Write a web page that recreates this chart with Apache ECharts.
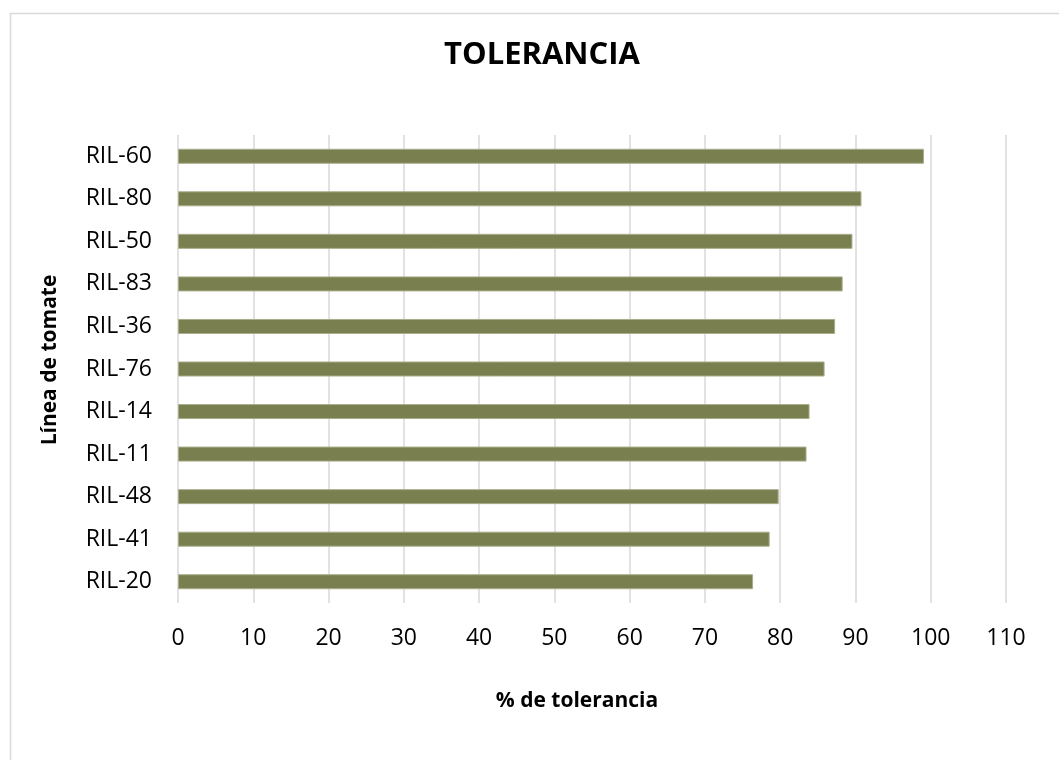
<!DOCTYPE html>
<html><head><meta charset="utf-8">
<script src="https://cdn.jsdelivr.net/npm/echarts@6/dist/echarts.min.js"></script>
<style>html,body{margin:0;padding:0;background:#fff}#c{width:1059px;height:760px}</style>
</head><body><div id="c"></div>
<script>
const categories = ['RIL-60','RIL-80','RIL-50','RIL-83','RIL-36','RIL-76','RIL-14','RIL-11','RIL-48','RIL-41','RIL-20'];
const tolerance = [99.1, 90.8, 89.6, 88.3, 87.3, 85.9, 83.9, 83.5, 79.8, 78.6, 76.4];
const title = 'TOLERANCIA';
const xName = '% de tolerancia';
const yName = 'Línea de tomate';
const FONT = '"Open Sans", sans-serif';

const chart = echarts.init(document.getElementById('c'));
chart.setOption({
  backgroundColor: '#fff',
  animation: false,
  title: { text: title, left: 537, top: 35, textAlign: 'center',
    textStyle: { fontFamily: FONT, fontSize: 31, fontWeight: 'bold', color: '#000' } },
  grid: { left: 178, right: 53, top: 135, bottom: 157, containLabel: false },
  xAxis: {
    type: 'value', min: 0, max: 110, interval: 10,
    axisLine: { show: false }, axisTick: { show: false },
    axisLabel: { fontFamily: FONT, fontSize: 23, color: '#000', margin: 24 },
    splitLine: { show: true, lineStyle: { color: '#d9d9d9', width: 1.5 } }
  },
  yAxis: {
    type: 'category', data: categories, inverse: true,
    axisLine: { show: false }, axisTick: { show: false },
    axisLabel: { fontFamily: FONT, fontSize: 23, color: '#000', margin: 26 }
  },
  series: [{
    type: 'bar', data: tolerance, barWidth: 15,
    itemStyle: { color: '#7a7f4f', borderColor: '#a9ad8a', borderWidth: 1 }
  }],
  graphic: [
    { type: 'rect', left: 8, top: 11, shape: { width: 1100, height: 800 },
      style: { fill: 'none', stroke: '#d9d9d9', lineWidth: 1.5 }, silent: true },
    { type: 'text', x: 577, y: 701, style: { text: xName, fontFamily: FONT, fontSize: 21, fontWeight: 'bold',
      fill: '#000', textAlign: 'center', textVerticalAlign: 'middle' } },
    { type: 'text', x: 50, y: 360, rotation: Math.PI / 2, style: { text: yName, fontFamily: FONT, fontSize: 21,
      fontWeight: 'bold', fill: '#000', textAlign: 'center', textVerticalAlign: 'middle' } }
  ]
});
</script></body></html>
